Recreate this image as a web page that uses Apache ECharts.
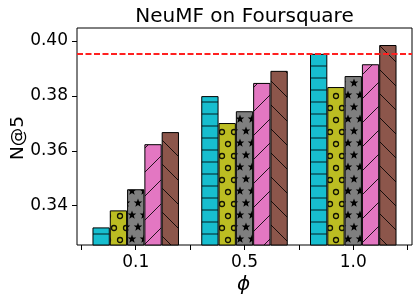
<!DOCTYPE html>
<html><head><meta charset="utf-8">
<script src="https://cdn.jsdelivr.net/npm/echarts@6/dist/echarts.min.js"></script>
<style>html,body{margin:0;padding:0;background:#fff}#c{width:419px;height:301px}</style>
</head><body><div id="c"></div>
<script>
// ---- data ----
const categories = ['0.1', '0.5', '1.0'];
const seriesNames = ['Method A', 'Method B', 'Method C', 'Method D', 'Method E'];
const cyanVals  = [0.3321, 0.3799, 0.3953];
const oliveVals = [0.3383, 0.3701, 0.3832];
const grayVals  = [0.3460, 0.3744, 0.3872];
const pinkVals  = [0.3624, 0.3847, 0.3915];
const brownVals = [0.3668, 0.3891, 0.3985];
const refLine = 0.3954;
const yTicks = [0.34, 0.36, 0.38, 0.40];
const xTickPositions = [-0.5, 0, 0.5, 1, 1.5, 2, 2.5];
const xLabelPositions = [0, 1, 2];

// ---- hatch tiles ----
function tile(w, h, bg, draw) {
  const c = document.createElement('canvas');
  c.width = w; c.height = h;
  const g = c.getContext('2d');
  g.fillStyle = bg; g.fillRect(0, 0, w, h);
  draw(g);
  return c;
}
function star(g, cx, cy, R, r) {
  g.beginPath();
  for (let i = 0; i < 10; i++) {
    const rad = i % 2 === 0 ? R : r;
    const a = -Math.PI / 2 + i * Math.PI / 5;
    const px = cx + rad * Math.cos(a), py = cy + rad * Math.sin(a);
    if (i === 0) g.moveTo(px, py); else g.lineTo(px, py);
  }
  g.closePath(); g.fill();
}
const hatchH = tile(12, 12, '#17becf', g => {
  g.fillStyle = 'rgba(0,0,0,0.6)'; g.fillRect(0, 5.3, 12, 1.4);
});
const hatchO = tile(12, 24, '#bcbd22', g => {
  g.strokeStyle = 'rgba(0,0,0,0.9)'; g.lineWidth = 1.3;
  [[0,0],[12,0],[0,24],[12,24],[6,12]].forEach(([x,y]) => {
    g.beginPath(); g.arc(x, y, 2.5, 0, Math.PI * 2); g.stroke();
  });
});
const hatchS = tile(12, 24, '#7f7f7f', g => {
  g.fillStyle = '#000';
  [[0,-1],[12,-1],[0,23],[12,23],[6,11]].forEach(([x,y]) => star(g, x, y, 4.5, 1.9));
});
const hatchF = tile(24, 24, '#e377c2', g => {
  g.strokeStyle = 'rgba(0,0,0,0.85)'; g.lineWidth = 1;
  [-19, 5, 29, 53].forEach(c => { g.beginPath(); g.moveTo(-6, c + 6); g.lineTo(30, c - 30); g.stroke(); });
});
const hatchB = tile(24, 24, '#8c564b', g => {
  g.strokeStyle = 'rgba(0,0,0,0.85)'; g.lineWidth = 1;
  [-46, -22, 2, 26, 50].forEach(c => { g.beginPath(); g.moveTo(-6, c - 6); g.lineTo(30, c + 30); g.stroke(); });
});

const chart = echarts.init(document.getElementById('c'), null, {renderer: 'canvas', width: 419, height: 301});

function bar(name, vals, img, extra) {
  return Object.assign({
    type: 'bar', name: name,
    data: vals.map((v, i) => [i, v]),
    barWidth: 17.3, barGap: '0%',
    itemStyle: {color: {image: img, repeat: 'repeat'}, borderColor: '#000', borderWidth: 1},
    emphasis: {disabled: true}
  }, extra || {});
}

chart.setOption({
  animation: false,
  textStyle: {fontFamily: 'DejaVu Sans'},
  title: {
    text: 'NeuMF on Foursquare', left: 244.5, top: 7, padding: 0, textAlign: 'center',
    textStyle: {fontFamily: 'DejaVu Sans', fontSize: 20, fontWeight: 'normal', color: '#000'}
  },
  grid: {left: 77, right: 7, top: 28, bottom: 56, show: true, borderColor: '#000', borderWidth: 1, backgroundColor: 'transparent'},
  xAxis: {
    type: 'value', min: -0.54, max: 2.54,
    splitLine: {show: false},
    axisLine: {show: false, onZero: false},
    axisTick: {show: true, length: 5, customValues: xTickPositions, lineStyle: {color: '#000', width: 1}},
    axisLabel: {customValues: xLabelPositions, formatter: v => categories[Math.round(v)], fontSize: 17, color: '#000', margin: 9, fontFamily: 'DejaVu Sans'}
  },
  yAxis: {
    type: 'value', min: 0.3257, max: 0.4047,
    splitLine: {show: false},
    axisLine: {show: false, onZero: false},
    axisTick: {show: true, length: 5, customValues: yTicks, lineStyle: {color: '#000', width: 1}},
    axisLabel: {customValues: yTicks, formatter: v => v.toFixed(2), fontSize: 17, color: '#000', margin: 9, padding: [4, 0, 0, 0], fontFamily: 'DejaVu Sans'}
  },
  graphic: [
    {type: 'text', x: 18, y: 138, rotation: Math.PI / 2,
     style: {text: 'N@5', fontSize: 18.5, fontFamily: 'DejaVu Sans', fill: '#000', align: 'center', verticalAlign: 'middle'}},
    {type: 'text', x: 243.5, y: 284.5,
     style: {text: 'ϕ', fontSize: 20, fontStyle: 'italic', fontFamily: 'DejaVu Sans', fill: '#000', align: 'center', verticalAlign: 'middle'}}
  ],
  series: [
    bar(seriesNames[0], cyanVals, hatchH),
    bar(seriesNames[1], oliveVals, hatchO),
    bar(seriesNames[2], grayVals, hatchS),
    bar(seriesNames[3], pinkVals, hatchF),
    bar(seriesNames[4], brownVals, hatchB, {
      markLine: {silent: true, symbol: 'none', precision: 4, label: {show: false},
        lineStyle: {color: '#ff2020', width: 2, type: [6, 2.5]},
        data: [{yAxis: refLine}]}
    })
  ]
});
</script>
</body></html>
